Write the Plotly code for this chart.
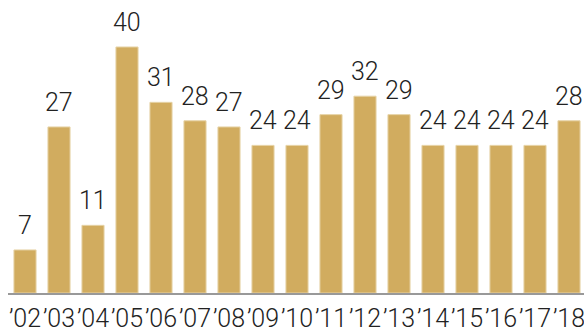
import plotly.graph_objects as go

years = ["’02", "’03", "’04", "’05", "’06", "’07", "’08", "’09", "’10", "’11",
         "’12", "’13", "’14", "’15", "’16", "’17", "’18"]
values = [7, 27, 11, 40, 31, 28, 27, 24, 24, 29, 32, 29, 24, 24, 24, 24, 28]

FONT = "Roboto, sans-serif"
idx = list(range(len(years)))

fig = go.Figure()
fig.add_trace(go.Bar(
    x=idx, y=values,
    marker=dict(color="#D1AC5F", line=dict(color="#E6D3A6", width=1)),
    width=0.65,
    hoverinfo="skip",
))

for i, v in zip(idx, values):
    fig.add_annotation(x=i, y=v, text=str(v), showarrow=False,
                       yanchor="bottom", yshift=8,
                       font=dict(family=FONT, size=25, color="#222222", weight=300))

fig.update_layout(
    width=584, height=333,
    margin=dict(l=8, r=0, t=0, b=40),
    plot_bgcolor="white", paper_bgcolor="white",
    showlegend=False,
    xaxis=dict(
        tickmode="array", tickvals=idx, ticktext=years,
        range=[-0.5, -0.5 + 576 / 34],
        showgrid=False, zeroline=False, automargin=False,
        showline=True, linecolor="#999999", linewidth=2,
        ticks="", tickangle=0, ticklabeloverflow="allow", ticklabelstandoff=2,
        tickfont=dict(family=FONT, size=25, color="#222222", weight=300),
    ),
    yaxis=dict(range=[0, 47.64], visible=False),
)

fig.write_html("out.html")
